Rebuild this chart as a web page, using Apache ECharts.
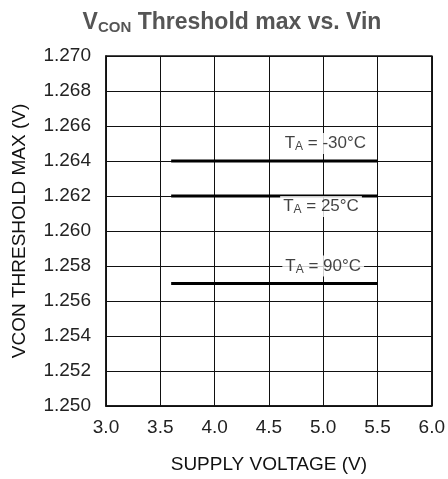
<!DOCTYPE html>
<html><head><meta charset="utf-8">
<script src="https://cdn.jsdelivr.net/npm/echarts@6/dist/echarts.min.js"></script>
<style>html,body{margin:0;padding:0;background:#fff;overflow:hidden}#c{width:100vw;height:100vh}</style>
</head><body><div id="c"></div>
<script>
const xTicks = [3.0, 3.5, 4.0, 4.5, 5.0, 5.5, 6.0];
const supplyV = [3.6, 5.5];
const vconM30 = [1.264, 1.264];
const vcon25 = [1.262, 1.262];
const vcon90 = [1.257, 1.257];
const tempLabels = ['-30°C', '25°C', '90°C'];
const labelV = [5.02, 4.98, 5.0];
const labelVcon = [1.2650, 1.2614, 1.2580];

const FONT = '"Liberation Sans", Arial, sans-serif';
const chart = echarts.init(document.getElementById('c'));
function pairs(xs, ys){ return xs.map((x,i)=>[x, ys[i]]); }
const lineStyle = {color:'#000', width:3};
chart.setOption({
  animation:false,
  title:{
    text:'{v|V}{s|CON}{v| Threshold max vs. Vin}',
    left:227, top:5, textAlign:'center',
    textStyle:{rich:{
      v:{fontFamily:FONT, fontSize:23, fontWeight:'bold', color:'#555'},
      s:{fontFamily:FONT, fontSize:15, fontWeight:'bold', color:'#555', verticalAlign:'bottom', padding:[10,0,0,0]}
    }}
  },
  grid:{left:106, right:11, top:56, bottom:63, containLabel:false,
        show:true, borderColor:'#111', borderWidth:1.5},
  xAxis:{type:'value', min:3.0, max:6.0, interval:0.5,
    name:'SUPPLY VOLTAGE (V)', nameLocation:'middle', nameGap:49,
    nameTextStyle:{fontFamily:FONT, fontSize:19, color:'#111'},
    axisLine:{show:true, lineStyle:{color:'#111', width:1.5}},
    axisTick:{show:false},
    axisLabel:{fontFamily:FONT, fontSize:19, color:'#222', margin:12, formatter:v=>v.toFixed(1)},
    splitLine:{show:true, lineStyle:{color:'#111', width:1}}
  },
  yAxis:{type:'value', min:1.250, max:1.270, interval:0.002,
    name:'VCON THRESHOLD MAX (V)', nameLocation:'middle', nameGap:77,
    nameTextStyle:{fontFamily:FONT, fontSize:19, color:'#111'},
    axisLine:{show:true, lineStyle:{color:'#111', width:1.5}},
    axisTick:{show:false},
    axisLabel:{fontFamily:FONT, fontSize:19, color:'#222', margin:15, formatter:v=>v.toFixed(3)},
    splitLine:{show:true, lineStyle:{color:'#111', width:1}}
  },
  series:[
    {type:'line', data:pairs(supplyV, vconM30), symbol:'none', lineStyle, z:3},
    {type:'line', data:pairs(supplyV, vcon25), symbol:'none', lineStyle, z:3},
    {type:'line', data:pairs(supplyV, vcon90), symbol:'none', lineStyle, z:3},
    {type:'scatter', symbolSize:0, z:4,
     data:pairs(labelV, labelVcon).map((p,i)=>({value:p, name:tempLabels[i]})),
     label:{show:true, position:'inside', backgroundColor:'#fff', padding:[1,3,1,3],
       formatter:p=>'{t|T}{s|A}{t| = '+p.name+'}',
       rich:{
         t:{fontFamily:FONT, fontSize:17, color:'#111'},
         s:{fontFamily:FONT, fontSize:12, color:'#111', verticalAlign:'bottom', padding:[7,0,0,0]}
       }}
    }
  ]
});
</script></body></html>
